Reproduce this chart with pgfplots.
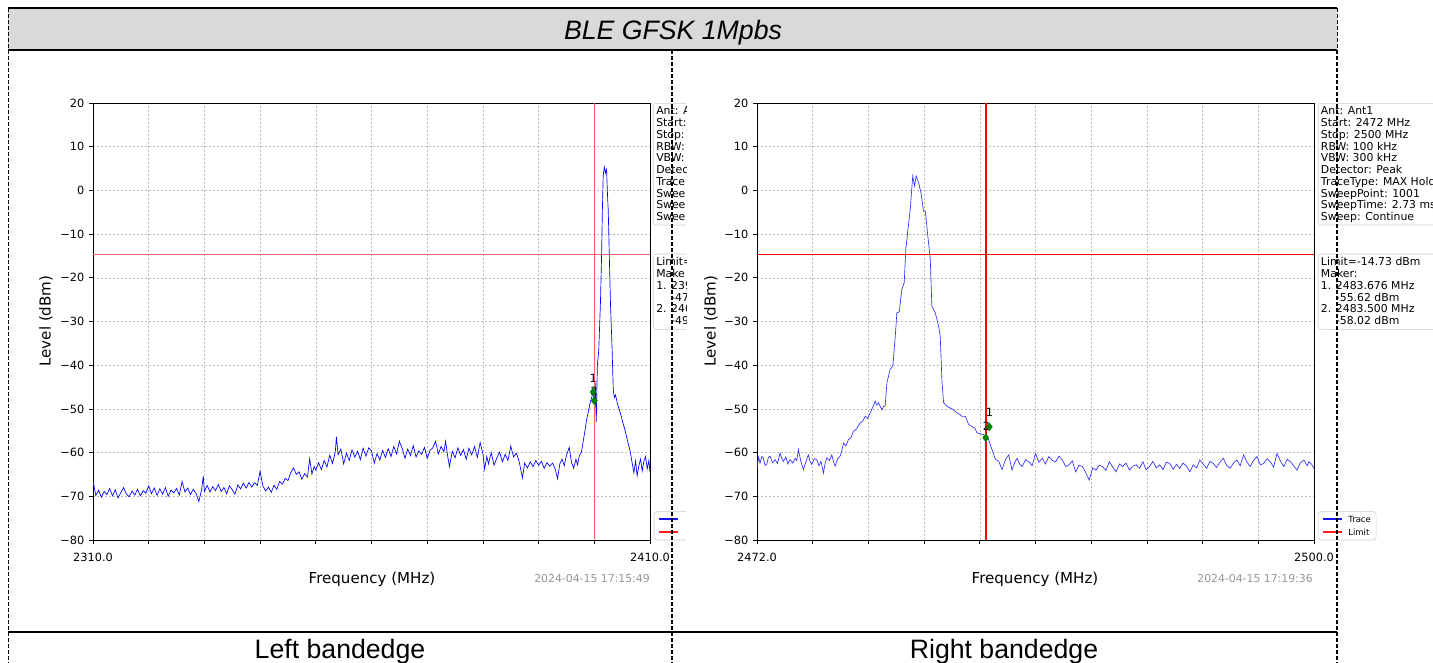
\documentclass[border=0pt]{standalone}
\usepackage{pgfplots}
\pgfplotsset{compat=1.18}
\usepackage{fontspec}
\setmainfont{DejaVu Sans}
\newfontfamily\arial{Liberation Sans}
\definecolor{hdrgray}{RGB}{217,217,217}
\definecolor{mkgreen}{RGB}{0,128,0}
\definecolor{boxedge}{RGB}{204,204,204}
\definecolor{stampgray}{RGB}{150,150,150}
\definecolor{limredL}{RGB}{255,100,100}
\definecolor{redH}{RGB}{255,0,0}
\definecolor{legblue}{RGB}{20,20,255}
\definecolor{legred}{RGB}{255,30,30}
\definecolor{trblue}{RGB}{0,0,255}
\definecolor{trblueR}{RGB}{50,50,255}

% spectrum analyser axis, px sizes * 0.75pt
\pgfplotsset{specax/.style={
  scale only axis, width=417.75pt, height=327.75pt, anchor=south west,
  ymin=-80, ymax=20, ytick={-80,-70,...,20},
  yticklabels={−80,−70,−60,−50,−40,−30,−20,−10,0,10,20},
  tick pos=left, tick align=outside, major tick length=3pt,
  tick style={black, line width=0.6pt},
  axis line style={black, line width=0.6pt},
  grid=major,
  major grid style={gray!55, line width=0.4pt, dash pattern=on 1.5pt off 1.5pt},
  ticklabel style={font=\fontsize{8.5}{10}\selectfont},
  xticklabel style={yshift=-3pt},
  unbounded coords=jump,
  clip=true,
}}

\begin{document}
\begin{tikzpicture}
\useasboundingbox (0,0) rectangle (1074.75pt,-497.25pt);

% ---------- left bandedge ----------
\begin{scope}
\clip (6.75pt,-38.25pt) rectangle (514.5pt,-473.25pt);
\begin{axis}[specax, at={(69.75pt,-405pt)},
  xmin=2310, xmax=2410, xtick={2310,2320,...,2410},
  xticklabels={2310.0,,,,,,,,,,2410.0}]
\addplot[draw=trblue, line width=0.5pt] coordinates {
(2310.0,-66.5) (2310.5,-69.8) (2311.0,-68.6) (2311.5,-70.2) (2312.0,-68.9) (2312.5,-69.6)
(2313.0,-68.2) (2313.5,-69.9) (2314.0,-68.5) (2314.5,-70.4) (2315.0,-69.1) (2315.5,-68.0)
(2316.0,-69.5) (2316.5,-70.1) (2317.0,-68.8) (2317.5,-69.7) (2318.0,-68.4) (2318.5,-69.9)
(2319.0,-68.7) (2319.5,-69.3) (2320.0,-67.6) (2320.5,-69.4) (2321.0,-68.1) (2321.5,-69.8)
(2322.0,-68.3) (2322.5,-69.5) (2323.0,-68.0) (2323.5,-70.0) (2324.0,-68.6) (2324.5,-69.2)
(2325.0,-68.2) (2325.5,-69.7) (2326.0,-66.6) (2326.5,-69.0) (2327.0,-68.1) (2327.5,-69.6)
(2328.0,-68.4) (2328.5,-69.3) (2329.0,-71.2) (2329.5,-68.5) (2329.8,-65.4) (2330.0,-68.9)
(2330.5,-67.5) (2331.0,-69.0) (2331.5,-67.8) (2332.0,-68.7) (2332.5,-67.3) (2333.0,-68.9)
(2333.5,-68.0) (2334.0,-69.4) (2334.5,-67.6) (2335.0,-68.5) (2335.5,-69.5) (2336.0,-67.4)
(2336.5,-68.3) (2337.0,-67.0) (2337.5,-68.1) (2338.0,-66.8) (2338.5,-67.9) (2339.0,-66.9)
(2339.5,-67.5) (2340.0,-64.3) (2340.5,-67.6) (2341.0,-68.8) (2341.5,-67.9) (2342.0,-69.1)
(2342.5,-67.5) (2343.0,-68.4) (2343.5,-66.6) (2344.0,-67.2) (2344.5,-65.9) (2345.0,-66.4)
(2345.5,-64.6) (2346.0,-63.5) (2346.5,-65.0) (2347.0,-64.4) (2347.5,-66.1) (2348.0,-64.8)
(2348.5,-65.6) (2348.9,-61.4) (2349.3,-64.9) (2349.7,-63.2) (2350.0,-64.0) (2350.5,-62.3)
(2351.0,-63.9) (2351.5,-61.8) (2352.0,-63.3) (2352.5,-60.6) (2353.0,-62.5) (2353.5,-59.8)
(2353.7,-56.4) (2354.0,-60.5) (2354.5,-59.2) (2355.0,-62.6) (2355.5,-60.1) (2356.0,-61.8)
(2356.5,-59.4) (2357.0,-61.0) (2357.5,-59.7) (2358.0,-61.6) (2358.5,-59.0) (2359.0,-60.8)
(2359.5,-58.9) (2360.0,-59.6) (2360.5,-62.4) (2361.0,-60.2) (2361.5,-61.7) (2362.0,-59.5)
(2362.5,-61.1) (2363.0,-59.1) (2363.5,-60.9) (2364.0,-58.6) (2364.5,-60.3) (2365.0,-57.4)
(2365.5,-59.0) (2366.0,-61.3) (2366.5,-59.2) (2367.0,-60.7) (2367.5,-58.4) (2368.0,-61.0)
(2368.5,-59.6) (2369.0,-60.4) (2369.5,-58.8) (2370.0,-61.3) (2370.5,-59.5) (2371.0,-58.9)
(2371.5,-57.4) (2372.0,-60.3) (2372.5,-58.6) (2373.0,-59.8) (2373.3,-57.4) (2373.7,-61.0)
(2374.0,-63.2) (2374.5,-59.7) (2375.0,-61.2) (2375.5,-58.9) (2376.0,-60.6) (2376.5,-59.3)
(2377.0,-61.5) (2377.5,-59.0) (2378.0,-60.5) (2378.5,-58.6) (2379.0,-61.1) (2379.5,-57.7)
(2380.0,-60.2) (2380.3,-63.8) (2380.7,-60.9) (2381.0,-62.6) (2381.5,-60.0) (2382.0,-62.9)
(2382.5,-61.2) (2383.0,-59.9) (2383.5,-62.1) (2384.0,-60.4) (2384.5,-61.8) (2385.0,-58.5)
(2385.5,-61.0) (2386.0,-60.1) (2386.5,-62.0) (2387.1,-65.8) (2387.5,-62.4) (2388.0,-63.5)
(2388.5,-62.1) (2389.0,-63.2) (2389.5,-61.8) (2390.0,-62.9) (2390.5,-62.0) (2391.0,-63.6)
(2391.5,-62.3) (2392.0,-63.1) (2392.5,-62.4) (2393.0,-63.8) (2393.4,-66.0) (2393.8,-62.6)
(2394.2,-61.5) (2394.6,-63.0) (2395.0,-60.6) (2395.5,-58.8) (2395.9,-62.2) (2396.3,-63.6)
(2396.7,-61.5) (2397.0,-62.8) (2397.3,-60.8) (2397.7,-59.8) (2398.0,-57.5) (2398.3,-55.2)
(2398.6,-52.6) (2398.9,-50.8) (2399.2,-48.9) (2399.5,-47.5) (2399.8,-46.2) (2400.0,-48.0)
(2400.15,-44.0) (2400.35,-53.0) (2400.55,-40.0) (2400.8,-36.5) (2401.1,-25.8) (2401.3,-15.2)
(2401.45,-4.5) (2401.6,3.5) (2401.8,5.3) (2402.0,4.0) (2402.2,4.8) (2402.4,-2.0)
(2402.5,-4.5) (2402.7,-15.2) (2402.9,-25.8) (2403.2,-36.5) (2403.4,-45.7) (2403.6,-47.4)
(2403.8,-46.8) (2404.1,-48.5) (2404.4,-49.8) (2404.8,-51.5) (2405.1,-53.0) (2405.5,-54.8)
(2406.0,-57.5) (2406.4,-59.4) (2406.8,-62.4) (2407.1,-64.6) (2407.4,-61.9) (2407.7,-65.3)
(2408.0,-63.0) (2408.3,-61.5) (2408.6,-64.2) (2408.9,-62.0) (2409.2,-60.9) (2409.5,-63.7)
(2409.8,-61.8) (2410.0,-64.5)
};
% limit line and marker line in one path
\addplot[draw=limredL, line width=0.6pt] coordinates {(2310,-14.73) (2410,-14.73) (2400,nan) (2400,-80) (2400,20)};
\addplot[only marks, mark=diamond*, mark size=3pt, mkgreen] coordinates {(2399.8,-46.1) (2400.0,-48.1)};
\node[inner sep=0, font=\fontsize{8.5}{10}\selectfont] at (axis cs:2399.8,-42.9) {1};
\node[inner sep=0, font=\fontsize{8.5}{10}\selectfont] at (axis cs:2400.0,-45.9) {2};
\end{axis}
\end{scope}

% ---------- right bandedge ----------
\begin{scope}
\clip (515.25pt,-38.25pt) rectangle (1074.75pt,-473.25pt);
\begin{axis}[specax, at={(567.75pt,-405pt)},
  xmin=2472, xmax=2500,
  xtick={2472,2474.8,2477.6,2480.4,2483.2,2486,2488.8,2491.6,2494.4,2497.2,2500},
  xticklabels={2472.0,,,,,,,,,,2500.0}]
\addplot[draw=trblueR, line width=0.5pt] coordinates {
(2472.00,-63.6) (2472.08,-61.0) (2472.15,-62.4) (2472.24,-60.9) (2472.32,-61.2) (2472.40,-62.9)
(2472.49,-62.7) (2472.57,-61.1) (2472.65,-60.8) (2472.78,-62.3) (2472.91,-61.6) (2473.03,-62.5)
(2473.16,-60.1) (2473.25,-61.4) (2473.33,-62.0) (2473.45,-61.0) (2473.55,-62.6) (2473.66,-61.6)
(2473.80,-62.4) (2473.92,-61.3) (2474.00,-61.8) (2474.08,-59.3) (2474.20,-61.9) (2474.33,-63.9)
(2474.45,-62.2) (2474.58,-60.5) (2474.66,-61.9) (2474.75,-62.7) (2474.88,-61.4) (2475.00,-61.6)
(2475.12,-63.0) (2475.22,-62.0) (2475.34,-64.7) (2475.42,-62.5) (2475.51,-61.2) (2475.64,-61.8)
(2475.76,-60.5) (2475.85,-62.2) (2475.93,-63.1) (2476.05,-61.4) (2476.18,-60.8) (2476.26,-59.6)
(2476.35,-57.8) (2476.47,-58.5) (2476.60,-57.0) (2476.72,-56.6) (2476.85,-55.1) (2477.00,-54.6)
(2477.10,-53.8) (2477.18,-53.2) (2477.30,-52.9) (2477.44,-51.7) (2477.56,-52.2) (2477.69,-50.9)
(2477.82,-49.6) (2477.94,-48.2) (2478.02,-49.1) (2478.11,-48.6) (2478.20,-49.5) (2478.28,-50.2)
(2478.36,-49.4) (2478.44,-49.4) (2478.53,-44.0) (2478.69,-41.0) (2478.83,-40.1) (2478.95,-33.4)
(2479.03,-28.0) (2479.15,-27.8) (2479.28,-22.7) (2479.40,-21.1) (2479.48,-13.5) (2479.57,-9.7)
(2479.70,-4.4) (2479.83,3.3) (2479.92,1.0) (2480.00,3.3) (2480.12,1.8) (2480.24,-0.5)
(2480.37,-4.7) (2480.46,-4.7) (2480.57,-9.7) (2480.71,-15.8) (2480.79,-26.5) (2480.96,-28.0)
(2481.13,-31.1) (2481.21,-33.4) (2481.30,-44.0) (2481.38,-48.6) (2481.55,-49.4) (2481.71,-49.8)
(2481.88,-50.2) (2482.05,-50.9) (2482.20,-51.3) (2482.30,-51.7) (2482.47,-51.7) (2482.64,-53.6)
(2482.80,-54.0) (2482.95,-54.4) (2483.06,-55.5) (2483.25,-55.7) (2483.39,-55.9) (2483.52,-56.8)
(2483.64,-57.0) (2483.81,-59.3) (2483.98,-61.5) (2484.15,-62.0) (2484.32,-63.9) (2484.48,-61.7)
(2484.65,-60.5) (2484.82,-64.0) (2484.95,-62.3) (2485.07,-61.3) (2485.20,-62.6) (2485.33,-63.2)
(2485.50,-61.6) (2485.66,-62.1) (2485.83,-63.0) (2486.00,-60.2) (2486.17,-62.2) (2486.34,-61.3)
(2486.50,-62.6) (2486.67,-60.9) (2486.84,-61.8) (2487.01,-62.1) (2487.18,-60.8) (2487.35,-61.7)
(2487.52,-63.2) (2487.69,-62.8) (2487.85,-61.9) (2488.02,-64.4) (2488.19,-62.9) (2488.36,-63.2)
(2488.53,-64.6) (2488.70,-66.3) (2488.87,-63.5) (2489.04,-64.0) (2489.20,-62.9) (2489.37,-63.2)
(2489.54,-64.1) (2489.71,-62.1) (2489.88,-63.3) (2490.05,-64.4) (2490.22,-62.6) (2490.38,-63.2)
(2490.55,-62.4) (2490.72,-64.0) (2490.89,-63.1) (2491.06,-62.8) (2491.23,-63.6) (2491.40,-62.1)
(2491.56,-63.9) (2491.73,-63.2) (2491.90,-62.0) (2492.07,-63.5) (2492.24,-62.8) (2492.41,-63.9)
(2492.58,-62.2) (2492.75,-62.5) (2492.92,-63.8) (2493.09,-62.7) (2493.25,-63.6) (2493.42,-62.4)
(2493.59,-63.1) (2493.76,-64.4) (2493.93,-62.8) (2494.10,-63.5) (2494.26,-61.7) (2494.43,-62.6)
(2494.60,-63.6) (2494.77,-62.0) (2494.94,-62.5) (2495.10,-63.4) (2495.27,-62.2) (2495.44,-61.3)
(2495.61,-62.9) (2495.78,-63.6) (2495.95,-62.4) (2496.12,-61.7) (2496.29,-63.0) (2496.46,-60.5)
(2496.62,-62.1) (2496.79,-63.2) (2496.96,-61.8) (2497.13,-60.9) (2497.30,-62.8) (2497.47,-62.5)
(2497.64,-61.4) (2497.80,-62.1) (2497.97,-63.3) (2498.14,-60.2) (2498.31,-61.9) (2498.48,-63.2)
(2498.65,-61.5) (2498.82,-62.1) (2498.99,-63.1) (2499.15,-64.0) (2499.32,-62.3) (2499.49,-61.7)
(2499.66,-63.0) (2499.74,-62.1) (2499.87,-62.6) (2500.00,-63.6)
};
\addplot[draw=redH, line width=0.6pt] coordinates {(2472,-14.73) (2500,-14.73)};
\addplot[draw=redH, line width=1.1pt] coordinates {(2483.5,-80) (2483.5,20)};
\addplot[only marks, mark=diamond*, mark size=3pt, mkgreen] coordinates {(2483.676,-54.1) (2483.5,-56.6)};
\node[inner sep=0, font=\fontsize{8.5}{10}\selectfont] at (axis cs:2483.68,-50.9) {1};
\node[inner sep=0, font=\fontsize{8.5}{10}\selectfont] at (axis cs:2483.53,-53.9) {2};
\end{axis}
\end{scope}

% ---------- texts around the plots, in px ----------
\begin{scope}[x=0.75pt,y=-0.75pt]
\tikzset{lab/.style={font=\fontsize{11.3}{13}\selectfont},
  info/.style={anchor=base west, inner sep=0, font=\fontsize{8.15}{9}\selectfont},
  stamp/.style={anchor=east, text=stampgray, inner sep=0, font=\fontsize{8.15}{9}\selectfont},
  leg/.style={anchor=west, inner sep=0, font=\fontsize{6.4}{7}\selectfont}}
\node[lab] at (372,579) {Frequency (MHz)};
\node[lab, rotate=90] at (46,321) {Level (dBm)};
\node[stamp] at (650,579) {2024-04-15 17:15:49};
\node[lab] at (1035,579) {Frequency (MHz)};
\node[lab, rotate=90] at (711,321) {Level (dBm)};
\node[stamp] at (1313,579) {2024-04-15 17:19:36};

% left info boxes, cut at the edge of the left image
\begin{scope}
\clip (640,60) rectangle (686,600);
\draw[draw=boxedge, rounded corners=2pt, fill=white] (653.3,103.3) rectangle (790,225);
\foreach \t [count=\i from 0] in {Ant: A,Start:,Stop:,RBW:,VBW:,Detec,Trace,Swee,Swee,Swee}
  \node[info] at (656,{114.7+11.78*\i}) {\t};
\draw[draw=boxedge, rounded corners=2pt, fill=white] (653.3,254) rectangle (790,329.3);
\foreach \t [count=\i from 0] in {Limit=,Make,1. 239,{\phantom{1. }-47},2. 240,{\phantom{1. }-49}}
  \node[info] at (656,{265.7+11.78*\i}) {\t};
\draw[draw=boxedge, rounded corners=2pt, fill=white] (654,511.7) rectangle (712,540);
\fill[legblue] (659,518.4) rectangle (678,519.6);
\fill[legred] (659,531.4) rectangle (678,532.6);
\end{scope}

\draw[draw=boxedge, rounded corners=2pt, fill=white] (1318.3,103.3) rectangle (1445,225);
\foreach \t [count=\i from 0] in {Ant: Ant1,Start: 2472 MHz,Stop: 2500 MHz,RBW: 100 kHz,VBW: 300 kHz,Detector: Peak,TraceType: MAX Hold,SweepPoint: 1001,SweepTime: 2.73 ms,Sweep: Continue}
  \node[info] at (1320.7,{114.7+11.78*\i}) {\t};
\draw[draw=boxedge, rounded corners=2pt, fill=white] (1318.3,254) rectangle (1445,329.3);
\foreach \t [count=\i from 0] in {Limit=-14.73 dBm,Maker:,1. 2483.676 MHz,{\phantom{1. }-55.62 dBm},2. 2483.500 MHz,{\phantom{1. }-58.02 dBm}}
  \node[info] at (1320.7,{265.7+11.78*\i}) {\t};
\draw[draw=boxedge, rounded corners=2pt, fill=white] (1318,511.7) rectangle (1376,540);
\fill[legblue] (1323,518.4) rectangle (1342,519.6);
\fill[legred] (1323,531.4) rectangle (1342,532.6);
\node[leg] at (1348,519) {Trace};
\node[leg] at (1348,532) {Limit};

% ---------- table frame ----------
\fill[hdrgray] (8,8) rectangle (1337,50);
\node[font=\arial\itshape\fontsize{20}{24}\selectfont, anchor=base, inner sep=0] at (673,40) {BLE GFSK 1Mpbs};
\draw[line width=1.5pt] (8,8) -- (1337,8);
\draw[line width=1.5pt] (8,50) -- (1337,50);
\draw[line width=1.3pt] (8,632) -- (1337,632);
\draw[line width=0.75pt, dash pattern=on 3pt off 1.5pt] (8,8) -- (8,663);
\draw[line width=0.75pt, dash pattern=on 3pt off 1.5pt] (1337,8) -- (1337,50);
\draw[line width=2.2pt, dash pattern=on 3pt off 1.5pt] (672,50) -- (672,663);
\draw[line width=2.2pt, dash pattern=on 3pt off 1.5pt] (1337,50) -- (1337,663);
\node[font=\arial\fontsize{20}{24}\selectfont, anchor=base, inner sep=0] at (340,658) {Left bandedge};
\node[font=\arial\fontsize{20}{24}\selectfont, anchor=base, inner sep=0] at (1004,658) {Right bandedge};
\end{scope}
\end{tikzpicture}
\end{document}
